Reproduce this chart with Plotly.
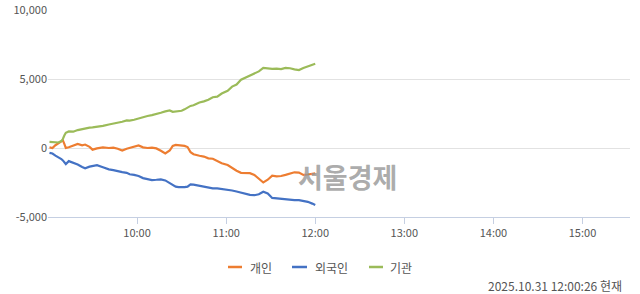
import plotly.graph_objects as go
import pandas as pd

# minutes after 09:00
minutes = [1, 3, 5, 7, 9, 10, 11, 12, 14, 17, 20, 23, 25, 28, 30, 33, 37, 41, 44, 47,
           50, 53, 55, 58, 61, 64, 67, 70, 73, 76, 79, 82, 84, 86, 88, 90, 92, 94, 96, 98,
           100, 102, 105, 108, 111, 114, 117, 121, 124, 127, 130, 133, 136, 139, 142, 145,
           148, 151, 154, 157, 160, 163, 166, 169, 172, 175, 178, 180]

individual = [50, 0, 200, 350, 450, 550, 300, 0, 50, 150, 300, 200, 250, 80, -120, -30, 50, 0, 30, -50,
              -180, -50, 0, 100, 180, 50, 0, 20, -30, -200, -400, -180, 150, 220, 200, 180, 150, 70, -300, -450,
              -520, -560, -620, -750, -780, -950, -1100, -1230, -1450, -1650, -1800, -1800, -1820, -1950, -2250, -2500,
              -2300, -2000, -2050, -2030, -1950, -1850, -1760, -1780, -1950, -1920, -1860, -1840]

foreign = [-350, -400, -550, -650, -800, -900, -1050, -1160, -950, -1050, -1200, -1380, -1470, -1350, -1300, -1250, -1400, -1550, -1600, -1700,
           -1750, -1800, -1900, -1950, -2030, -2180, -2250, -2320, -2300, -2270, -2350, -2550, -2700, -2800, -2830, -2850, -2840, -2800, -2630, -2650,
           -2700, -2750, -2780, -2880, -2920, -2930, -2960, -3000, -3080, -3150, -3250, -3300, -3400, -3420, -3350, -3170,
           -3300, -3620, -3660, -3700, -3720, -3740, -3770, -3780, -3820, -3900, -4030, -4130]

institution = [450, 450, 430, 400, 500, 650, 900, 1100, 1200, 1180, 1300, 1380, 1400, 1480, 1500, 1530, 1600, 1700, 1750, 1850,
               1900, 2000, 1980, 2050, 2150, 2200, 2320, 2380, 2450, 2550, 2650, 2720, 2620, 2640, 2680, 2700, 2800, 2950, 3050, 3100,
               3200, 3300, 3380, 3500, 3680, 3720, 3950, 4150, 4450, 4600, 4950, 5100, 5200, 5350, 5550, 5800,
               5750, 5730, 5750, 5720, 5800, 5780, 5700, 5650, 5800, 5900, 6000, 6100]

series_names = ["개인", "외국인", "기관"]
series_colors = ["#ED7D31", "#4472C4", "#9BBB59"]
y_ticks = [-5000, 0, 5000, 10000]
y_tick_labels = ["-5,000", "0", "5,000", "10,000"]
x_tick_labels = ["10:00", "11:00", "12:00", "13:00", "14:00", "15:00"]
stamp_text = "2025.10.31 12:00:26 현재"
watermark_text = "서울경제"

base = pd.Timestamp("2025-10-31 09:00")
times = [base + pd.Timedelta(minutes=m) for m in minutes]
x_ticks = [pd.Timestamp(f"2025-10-31 {t}") for t in x_tick_labels]

font_family = "Noto Sans CJK KR, Noto Sans, DejaVu Sans, sans-serif"

fig = go.Figure()
for name, vals, col in zip(series_names, [individual, foreign, institution], series_colors):
    fig.add_trace(go.Scatter(x=times, y=vals, mode="lines", name=name,
                             line=dict(color=col, width=2.2), showlegend=False))

fig.update_layout(
    width=640, height=294,
    margin=dict(l=48, r=10, t=10, b=77),
    paper_bgcolor="white", plot_bgcolor="white",
    showlegend=False,
    font=dict(family=font_family, size=11, color="#555"),
)
fig.update_xaxes(
    range=[base, base + pd.Timedelta(minutes=392)],
    tickvals=x_ticks, ticktext=x_tick_labels, automargin=False,
    showgrid=False, showline=True, linecolor="#c5cfe2", linewidth=1,
    ticks="outside", ticklen=6, tickcolor="#c5cfe2",
    tickfont=dict(size=11, color="#555"), zeroline=False,
)
fig.update_yaxes(
    range=[-5000, 10000], tickvals=y_ticks, ticktext=y_tick_labels, automargin=False,
    showgrid=True, gridcolor="#e2e2e2", gridwidth=1, zeroline=False,
    showline=False, ticks="", tickfont=dict(size=11, color="#555"),
)

# watermark
fig.add_annotation(text=f"<b>{watermark_text}</b>", xref="paper", yref="paper",
                   x=(347 - 48) / 582, y=(217 - 198) / 207, showarrow=False,
                   font=dict(size=27, color="rgba(150,150,150,0.8)", family=font_family))

# manual legend
leg_y = (217 - 267) / 207
legend_items = [(228, 242, 248), (292, 307, 313), (369, 383, 388)]
for (x0, x1, xt), name, col in zip(legend_items, series_names, series_colors):
    fig.add_shape(type="line", xref="paper", yref="paper",
                  x0=(x0 - 48) / 582, x1=(x1 - 48) / 582, y0=leg_y, y1=leg_y,
                  line=dict(color=col, width=2.5))
    fig.add_annotation(text=name, xref="paper", yref="paper", x=(xt - 48) / 582, y=leg_y,
                       xanchor="left", yanchor="middle", showarrow=False,
                       font=dict(size=12, color="#555"))

fig.add_annotation(text=stamp_text, xref="paper", yref="paper", x=(623 - 48) / 582,
                   y=(217 - 285) / 207, xanchor="right", yanchor="middle", showarrow=False,
                   borderpad=0, font=dict(size=12, color="#555"))

fig.write_html("out.html")
